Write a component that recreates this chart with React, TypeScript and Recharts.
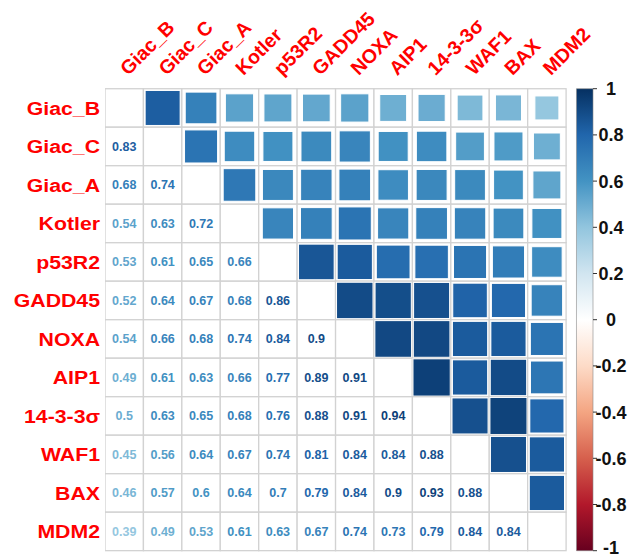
import React from "react";
import { ScatterChart, Scatter, XAxis, YAxis, ReferenceArea } from "recharts";

// gene names, same order for rows (top -> bottom) and columns (left -> right)
const GENES = [
  "Giac_B", "Giac_C", "Giac_A", "Kotler", "p53R2", "GADD45",
  "NOXA", "AIP1", "14-3-3σ", "WAF1", "BAX", "MDM2",
];

// lower triangle of the correlation matrix, row i holds r(i, 0..i-1)
const LOWER: number[][] = [
  [],
  [0.83],
  [0.68, 0.74],
  [0.54, 0.63, 0.72],
  [0.53, 0.61, 0.65, 0.66],
  [0.52, 0.64, 0.67, 0.68, 0.86],
  [0.54, 0.66, 0.68, 0.74, 0.84, 0.9],
  [0.49, 0.61, 0.63, 0.66, 0.77, 0.89, 0.91],
  [0.5, 0.63, 0.65, 0.68, 0.76, 0.88, 0.91, 0.94],
  [0.45, 0.56, 0.64, 0.67, 0.74, 0.81, 0.84, 0.84, 0.88],
  [0.46, 0.57, 0.6, 0.64, 0.7, 0.79, 0.84, 0.9, 0.93, 0.88],
  [0.39, 0.49, 0.53, 0.61, 0.63, 0.67, 0.74, 0.73, 0.79, 0.84, 0.84],
];

const CB_TICKS = [-1, -0.8, -0.6, -0.4, -0.2, 0, 0.2, 0.4, 0.6, 0.8, 1];

// RdBu palette (corrplot COL2), from -1 to 1
const RDBU = [
  "#67001F", "#B2182B", "#D6604D", "#F4A582", "#FDDBC7", "#FFFFFF",
  "#D1E5F0", "#92C5DE", "#4393C3", "#2166AC", "#053061",
];

const W = 630;
const H = 557;
const LEFT = 105;
const RIGHT = 37;
const TOP = 88.7;
const BOTTOM = 6.3;
const X_MAX = 12.7; // grid (12 cells) + colour bar strip
const CB_FROM = 12.27;
const CELL = (W - LEFT - RIGHT) / X_MAX;
const FONT = "'Liberation Sans', Arial, Helvetica, sans-serif";
const LABEL_RED = "#FF0000";

function hexToRgb(h: string) {
  const n = parseInt(h.slice(1), 16);
  return [(n >> 16) & 255, (n >> 8) & 255, n & 255];
}

function colorFor(r: number) {
  const t = ((r + 1) / 2) * (RDBU.length - 1);
  const i = Math.min(Math.floor(t), RDBU.length - 2);
  const f = t - i;
  const a = hexToRgb(RDBU[i]);
  const b = hexToRgb(RDBU[i + 1]);
  const c = a.map((v, k) => Math.round(v + (b[k] - v) * f));
  return `rgb(${c[0]},${c[1]},${c[2]})`;
}

type Cell = { x: number; y: number; r: number | null; kind: "diag" | "num" | "sq" };

const cells: Cell[] = [];
GENES.forEach((_, i) => {
  GENES.forEach((__, j) => {
    let kind: Cell["kind"] = "diag";
    let r: number | null = null;
    if (j < i) {
      kind = "num";
      r = LOWER[i][j];
    } else if (j > i) {
      kind = "sq";
      r = LOWER[j][i];
    }
    cells.push({ x: j + 0.5, y: i + 0.5, r, kind });
  });
});

// anchors for the colour bar axis (not drawn, they just feed the axis)
const cbPoints = CB_TICKS.map((v) => ({ x: X_MAX, v }));

const centerTicks = GENES.map((_, i) => i + 0.5);

function CellShape(props: any) {
  const { cx, cy, payload } = props;
  const h = CELL / 2;
  const r = payload.r as number | null;
  let inner: React.ReactNode = null;
  if (payload.kind === "sq" && r !== null) {
    const side = Math.sqrt(Math.abs(r)) * CELL;
    inner = (
      <rect
        x={cx - side / 2}
        y={cy - side / 2}
        width={side}
        height={side}
        fill={colorFor(r)}
        stroke="#ffffff"
        strokeWidth={1}
      />
    );
  } else if (payload.kind === "num" && r !== null) {
    inner = (
      <text
        x={cx}
        y={cy}
        dy="0.36em"
        textAnchor="middle"
        fontFamily={FONT}
        fontWeight="bold"
        fontSize={12.5}
        fill={colorFor(r)}
      >
        {String(r)}
      </text>
    );
  }
  return (
    <g>
      <rect x={cx - h} y={cy - h} width={CELL} height={CELL} fill="#ffffff" stroke="#d2d2d2" strokeWidth={1.3} />
      {inner}
    </g>
  );
}

function RowTick(props: any) {
  const { x, y, payload } = props;
  const name = GENES[Math.floor(payload.value)];
  return (
    <g transform={`translate(${x - 5},${y}) scale(1.15,1)`}>
      <text x={0} y={0} dy="0.36em" textAnchor="end" fontFamily={FONT} fontWeight="bold" fontSize={18.5} fill={LABEL_RED}>
        {name}
      </text>
    </g>
  );
}

function ColTick(props: any) {
  const { x, y, payload } = props;
  const name = GENES[Math.floor(payload.value)];
  return (
    <g transform={`translate(${x + 4},${y - 12.5}) rotate(-45)`}>
      <text x={0} y={0} textAnchor="start" fontFamily={FONT} fontWeight="bold" fontSize={19.5} fill={LABEL_RED}>
        {name}
      </text>
    </g>
  );
}

function CbTick(props: any) {
  const { x, y, payload } = props;
  // keep the bottom label inside the picture
  const lift = payload.value === -1 ? -3 : 0;
  return (
    <text x={x + 14} y={y + lift} dy="0.36em" textAnchor="middle" fontFamily={FONT} fontWeight="bold" fontSize={18} fill="#111">
      {String(payload.value)}
    </text>
  );
}

export default function App() {
  return (
    <div style={{ position: "absolute", left: 0, top: 0, background: "#fff" }}>
      <ScatterChart width={W} height={H} margin={{ top: 0, right: 0, bottom: BOTTOM, left: 0 }}>
        <defs>
          <linearGradient id="cbGrad" x1="0" y1="1" x2="0" y2="0">
            {RDBU.map((c, i) => (
              <stop key={i} offset={`${(i / (RDBU.length - 1)) * 100}%`} stopColor={c} />
            ))}
          </linearGradient>
        </defs>
        <XAxis
          type="number"
          dataKey="x"
          domain={[0, X_MAX]}
          orientation="top"
          height={TOP}
          ticks={centerTicks}
          interval={0}
          tick={ColTick}
          tickSize={0}
          tickMargin={0}
          axisLine={false}
          tickLine={false}
          allowDataOverflow
        />
        <YAxis
          yAxisId="m"
          type="number"
          dataKey="y"
          domain={[0, 12]}
          reversed
          width={LEFT}
          ticks={centerTicks}
          interval={0}
          tick={RowTick}
          tickSize={0}
          tickMargin={0}
          axisLine={false}
          tickLine={false}
        />
        <YAxis
          yAxisId="cb"
          type="number"
          dataKey="v"
          orientation="right"
          domain={[-1, 1]}
          width={RIGHT}
          ticks={CB_TICKS}
          interval={0}
          tick={CbTick}
          tickSize={4}
          tickMargin={0}
          axisLine={false}
          tickLine={{ stroke: "#333" }}
        />
        <ReferenceArea
          yAxisId="cb"
          x1={CB_FROM}
          x2={X_MAX}
          y1={-1}
          y2={1}
          fill="url(#cbGrad)"
          fillOpacity={1}
          stroke="#888"
          strokeWidth={0.6}
          ifOverflow="visible"
        />
        <Scatter yAxisId="m" data={cells} shape={CellShape} isAnimationActive={false} />
        <Scatter yAxisId="cb" data={cbPoints} shape={() => <g />} isAnimationActive={false} />
      </ScatterChart>
    </div>
  );
}
